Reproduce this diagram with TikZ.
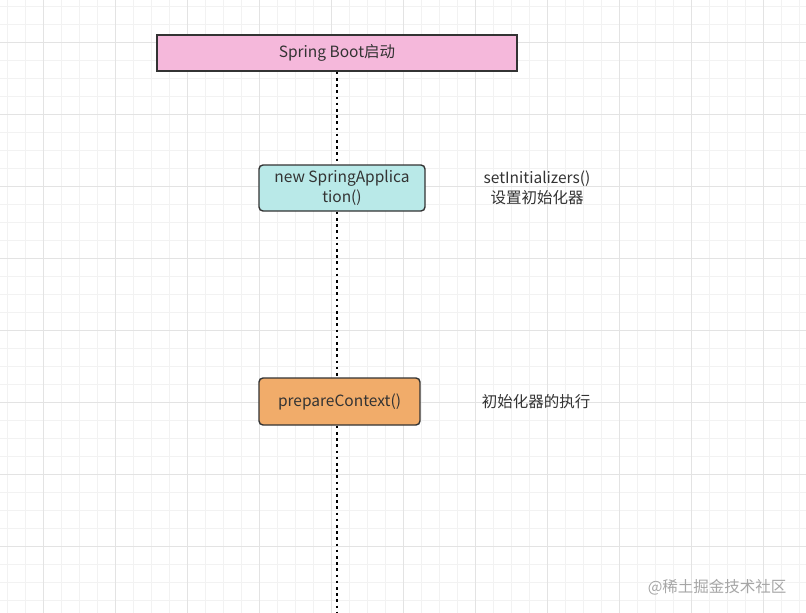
\documentclass[tikz,border=0pt]{standalone}
\usepackage{fontspec}
\setmainfont{Noto Sans CJK SC}
\usepackage{xcolor}
\usetikzlibrary{positioning}

\definecolor{bootpink}{HTML}{F5B8DB}
\definecolor{appcyan}{HTML}{B9E9E8}
\definecolor{ctxorange}{HTML}{F1AC6A}
\definecolor{boxline}{HTML}{333333}
\definecolor{gridminor}{HTML}{F2F2F2}
\definecolor{gridmajor}{HTML}{E3E3E3}

\begin{document}
\begin{tikzpicture}[
  x=1pt, y=-1pt,
  font=\fontsize{15.5}{19.5}\selectfont,
  phase/.style={draw=boxline,line width=1.4pt,align=center,inner sep=0pt,text=black!80},
  note/.style={align=center,text=black!80},
  life/.style={line width=2.6pt,dash pattern=on 2.6pt off 3.6pt,black}
]
\useasboundingbox (0,0) rectangle (806,613);
\fill[white] (0,0) rectangle (806,613);
% grid
\foreach \gx in {7,25,...,806} \draw[gridminor,line width=0.8pt] (\gx,0) -- (\gx,613);
\foreach \gy in {6,24,...,613} \draw[gridminor,line width=0.8pt] (0,\gy) -- (806,\gy);
\foreach \gx in {43,115,...,806} \draw[gridmajor,line width=1pt] (\gx,0) -- (\gx,613);
\foreach \gy in {42,114,...,613} \draw[gridmajor,line width=1pt] (0,\gy) -- (806,\gy);

\node[phase,fill=bootpink,minimum width=360pt,minimum height=36pt] (boot) at (337,53) {Spring Boot启动};
\node[phase,fill=appcyan,rounded corners=4pt,minimum width=166pt,minimum height=46pt] (app) at (342,188) {new SpringApplica\\tion()};
\node[phase,fill=ctxorange,rounded corners=4pt,minimum width=161pt,minimum height=47pt] (ctx) at (339.5,401.5) {prepareContext()};
\node[note] (init) at (537,188) {setInitializers()\\设置初始化器};
\node[note] (run) at (536,402) {初始化器的执行};
\node[text=black!35,anchor=east] (mark) at (790,587) {@稀土掘金技术社区};
\coordinate (end) at (337,613);

\draw[life] (boot.south) -- (boot.south |- app.north);
\draw[life] (boot.south |- app.south) -- (boot.south |- ctx.north);
\draw[life] (boot.south |- ctx.south) -- (end);
\end{tikzpicture}
\end{document}
